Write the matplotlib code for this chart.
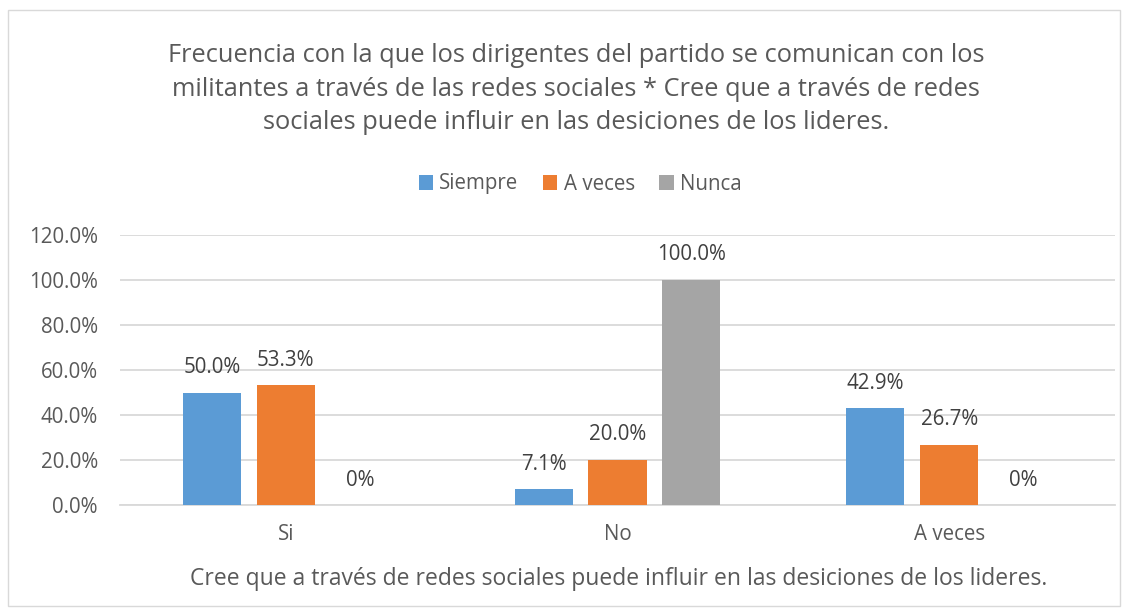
import numpy as np
import matplotlib.pyplot as plt
from matplotlib.patches import Rectangle
from matplotlib.ticker import FuncFormatter

# --- datos ---
categorias = ["Si", "No", "A veces"]
series = ["Siempre", "A veces", "Nunca"]
siempre = [50.0, 7.1, 42.9]
a_veces = [53.3, 20.0, 26.7]
nunca = [0.0, 100.0, 0.0]
etiquetas = [
    ["50.0%", "7.1%", "42.9%"],
    ["53.3%", "20.0%", "26.7%"],
    ["0%", "100.0%", "0%"],
]

colores = ["#5B9BD5", "#ED7D31", "#A5A5A5"]
titulo = ("Frecuencia con la que los dirigentes del partido se comunican con los\n"
          "militantes a través de las redes sociales * Cree que a través de redes\n"
          "sociales puede influir en las desiciones de los lideres.")
titulo_x = "Cree que a través de redes sociales puede influir en las desiciones de los lideres."

plt.rcParams["font.family"] = ["Open Sans", "DejaVu Sans"]

W, H = 1130, 616
fig = plt.figure(figsize=(W / 100, H / 100), dpi=100)

# marco del gráfico
fig.patches.append(Rectangle((8 / W, 1 - 606 / H), 1112 / W, 596 / H,
                             transform=fig.transFigure, fill=False,
                             edgecolor="#D9D9D9", linewidth=1))

ax = fig.add_axes([120 / W, 1 - 505 / H, 995 / W, 270 / H])

x = np.arange(len(categorias))
ancho = 0.175
paso = 0.223
valores = [siempre, a_veces, nunca]
for i, (nombre, vals) in enumerate(zip(series, valores)):
    pos = x + (i - 1) * paso
    ax.bar(pos, vals, width=ancho, color=colores[i], label=nombre, zorder=3)
    for px, v, t in zip(pos, vals, etiquetas[i]):
        ax.annotate(t, (px, v), xytext=(0, 18), textcoords="offset points",
                    ha="center", va="center", fontsize=14.8, color="#404040")

ax.set_xlim(-0.5, 2.5)
ax.set_ylim(0, 120)
ax.set_yticks(np.arange(0, 121, 20))
ax.yaxis.set_major_formatter(FuncFormatter(lambda v, _: f"{v:.1f}%"))
ax.set_xticks(x)
ax.set_xticklabels(categorias)
ax.grid(axis="y", color="#D9D9D9", linewidth=1.3, zorder=0)
for s in ["top", "right", "left"]:
    ax.spines[s].set_visible(False)
ax.spines["bottom"].set_color("#D9D9D9")
ax.spines["bottom"].set_linewidth(1.3)
ax.tick_params(axis="both", length=0, labelsize=14.8, colors="#595959")
ax.tick_params(axis="x", pad=14)
ax.tick_params(axis="y", pad=16)

fig.text(576 / W, 1 - 89 / H, titulo, ha="center", va="center", fontsize=18.3,
         color="#595959", linespacing=1.45)
fig.text(619 / W, 1 - 579 / H, titulo_x, ha="center", va="center", fontsize=16.5,
         color="#595959")

fig.legend(loc="center", bbox_to_anchor=(580 / W, 1 - 184 / H), ncol=3, frameon=False,
           fontsize=14.8, handlelength=0.7, handleheight=0.7, handletextpad=0.3,
           columnspacing=1.2, labelcolor="#595959")

fig.savefig("out.png", dpi=100)
